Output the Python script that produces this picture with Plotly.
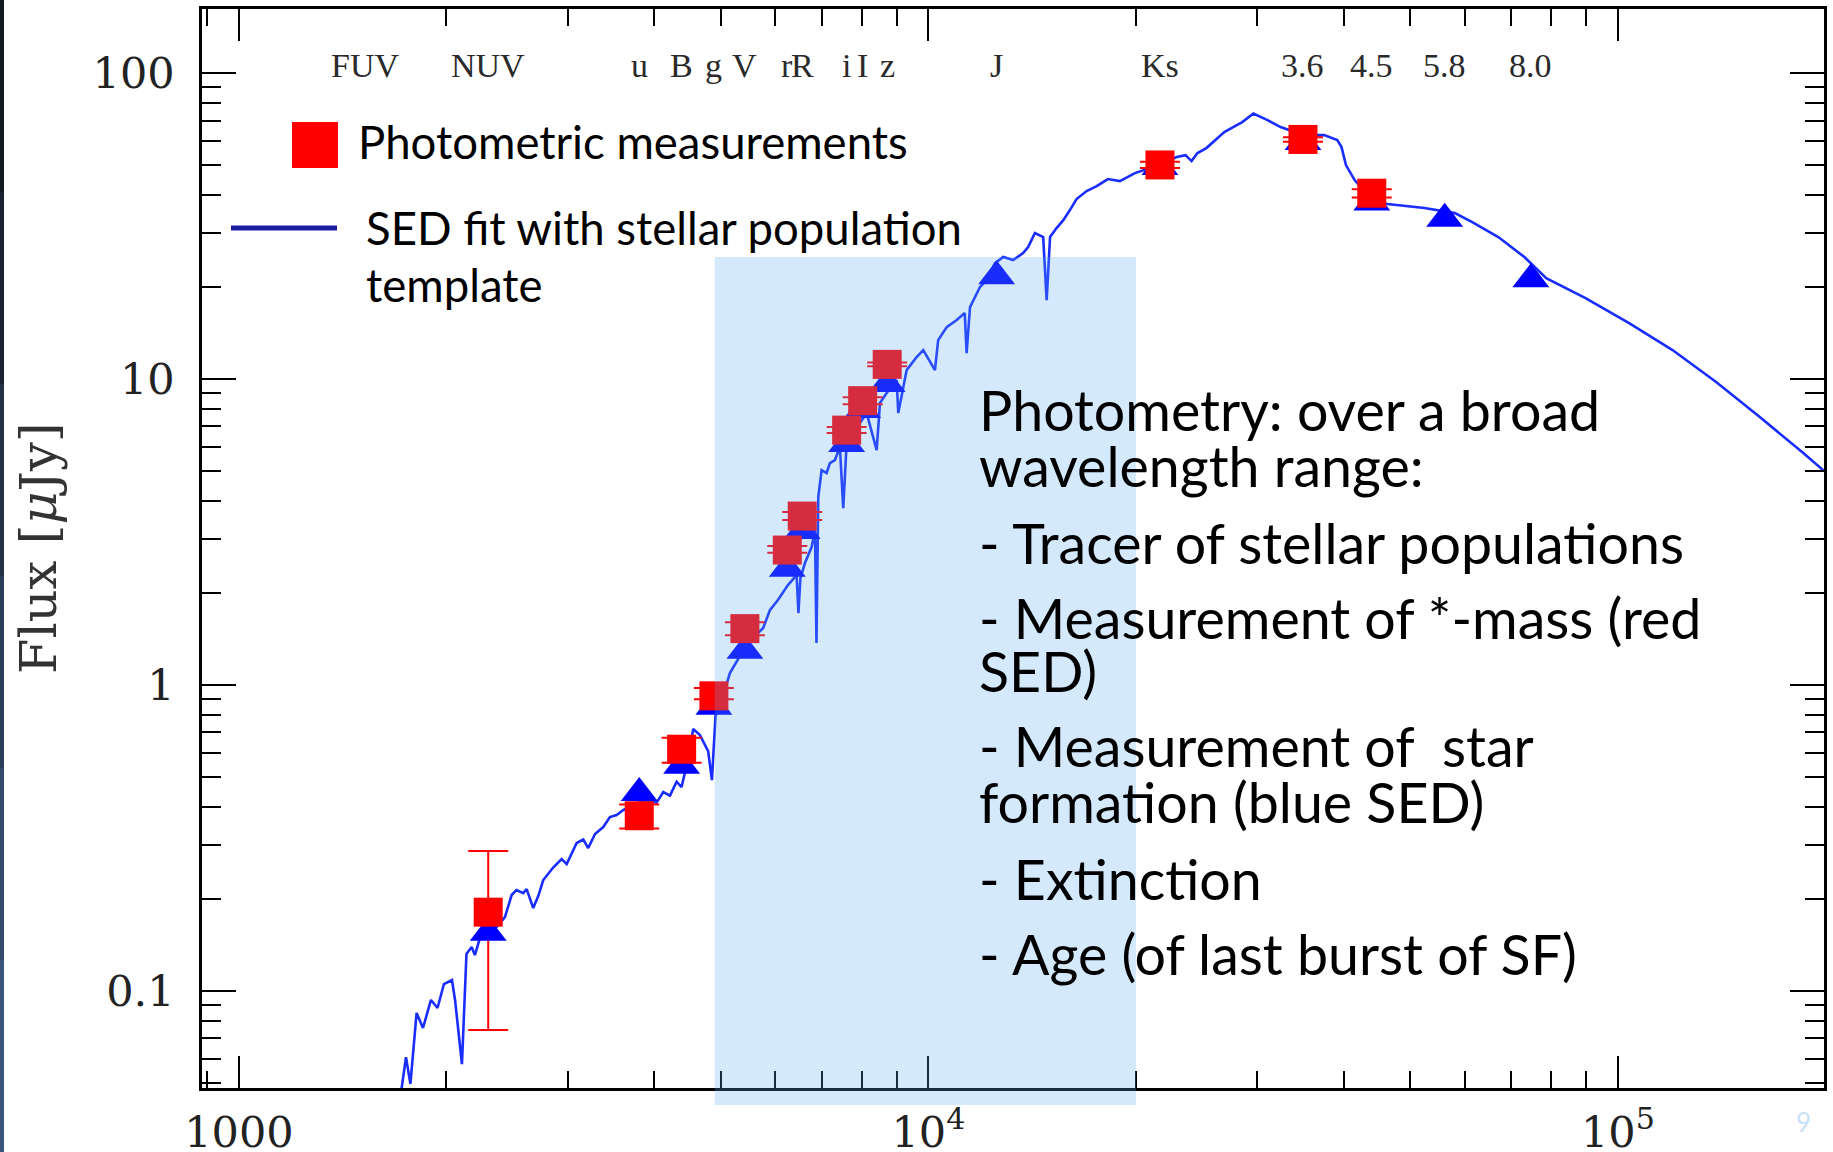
import math
import plotly.graph_objects as go

# ---------------- data ----------------
band_names = ["FUV", "NUV", "u", "B", "g", "V", "r", "R", "i", "I", "z",
              "J", "Ks", "3.6", "4.5", "5.8", "8.0"]
band_wl = [1523, 2299, 3807, 4386, 4885, 5418, 6242, 6561, 7610, 8028, 8713,
           12558, 21666, 34930, 43950, 56070, 74770]

# photometric measurements (red squares)
phot_wl = [2299, 3807, 4386, 4885, 5418, 6242, 6561, 7610, 8028, 8713,
           21666, 34930, 43950]
phot_flux = [0.181, 0.374, 0.617, 0.922, 1.529, 2.762, 3.567, 6.81, 8.50, 11.17,
             50.1, 60.7, 40.5]
phot_err_hi = [0.287, 0.407, 0.673, 0.978, 1.603, 2.846, 3.676, 6.97, 8.73, 11.32,
               51.3, 61.7, 41.7]
phot_err_lo = [0.0746, 0.340, 0.557, 0.898, 1.454, 2.706, 3.461, 6.66, 8.27, 11.02,
               49.0, 59.7, 39.2]

# model photometry (blue triangles)
model_wl = [2299, 3807, 4386, 4885, 5418, 6242, 6561, 7610, 8028, 8713,
            12558, 21666, 34930, 43950, 56070, 74770]
model_flux = [0.155, 0.444, 0.545, 0.849, 1.294, 2.399, 3.186, 6.13, 7.92, 9.63,
              21.7, 49.3, 59.5, 37.8, 33.4, 21.2]

# SED template (blue line)
sed_wl = [1684, 1722, 1747, 1773, 1810, 1849, 1899, 1941, 1983, 2037,
          2058, 2106, 2138, 2175, 2199, 2236, 2287, 2365, 2431, 2486,
          2527, 2584, 2614, 2672, 2717, 2763, 2856, 2938, 2988, 3089,
          3158, 3211, 3284, 3376, 3452, 3530, 3609, 3715, 3879, 4035,
          4125, 4218, 4313, 4385, 4479, 4559, 4662, 4792, 4853, 4911,
          5017, 5153, 5328, 5448, 5602, 5759, 5890, 6049, 6255, 6439,
          6478, 6521, 6621, 6770, 6846, 6881, 6922, 7000, 7117, 7197,
          7318, 7441, 7524, 7610, 7779, 8000, 8136, 8412, 8506, 8698,
          8994, 9042, 9299, 9613, 9829, 10220, 10330, 10630, 10990, 11290,
          11360, 11490, 11880, 12150, 12490, 12840, 13270, 13720, 13950, 14270,
          14670, 14840, 15010, 15340, 15690, 16040, 16400, 16960, 17540, 18210,
          18950, 19930, 21170, 22920, 23600, 24080, 24560, 25300, 26080, 26860,
          27670, 28520, 29600, 31030, 32420, 33440, 34990, 37490, 39170, 39730,
          40320, 41510, 42730, 43980, 46300, 52400, 58000, 61480, 67060, 73170,
          78700, 89740, 103800, 120000, 138800, 160600, 185700, 199100]
sed_flux = [0.0457, 0.0482, 0.0608, 0.0497, 0.0848, 0.0757, 0.0935, 0.0880, 0.1054, 0.1086,
            0.0935, 0.0577, 0.1321, 0.1392, 0.1311, 0.1490, 0.1547, 0.1618, 0.1745, 0.2059,
            0.2138, 0.2090, 0.2154, 0.1867, 0.2044, 0.2305, 0.2533, 0.2701, 0.2600, 0.3046,
            0.3127, 0.2933, 0.3259, 0.3435, 0.3703, 0.3760, 0.3904, 0.4054, 0.4210, 0.4127,
            0.4470, 0.4351, 0.4833, 0.4642, 0.5687, 0.7181, 0.6864, 0.6086, 0.4892, 0.7917,
            0.8933, 1.094, 1.244, 1.372, 1.446, 1.536, 1.758, 1.896, 2.122, 2.288,
            1.719, 2.237, 2.505, 2.825, 3.211, 1.372, 4.116, 5.043, 4.931, 5.315,
            5.437, 5.995, 3.788, 6.177, 6.661, 7.345, 7.743, 5.861, 8.350, 9.000,
            9.924, 7.743, 10.70, 11.80, 12.44, 10.70, 13.41, 14.79, 15.59, 16.43,
            12.16, 17.19, 19.99, 21.06, 23.94, 25.05, 24.49, 25.81, 27.00, 30.00,
            29.12, 18.12, 29.12, 31.16, 33.08, 35.67, 38.75, 41.16, 42.73, 45.04,
            44.37, 47.12, 49.31, 53.15, 53.95, 51.57, 54.78, 56.88, 60.39, 64.14,
            66.61, 69.17, 73.74, 70.22, 66.61, 65.11, 62.72, 62.72, 60.39, 57.31,
            50.03, 44.70, 41.46, 38.46, 37.32, 36.22, 34.87, 32.59, 29.12, 25.05,
            21.38, 18.40, 15.24, 12.44, 9.777, 7.513, 5.731, 5.005]

# axis ticks
x_major = [1000, 10000, 100000]
x_major_text = ["1000", "10<sup>4</sup>", "10<sup>5</sup>"]
x_minor = [900, 2000, 3000, 4000, 5000, 6000, 7000, 8000, 9000,
           20000, 30000, 40000, 50000, 60000, 70000, 80000, 90000]
y_major = [0.1, 1, 10, 100]
y_major_text = ["0.1", "1", "10", "100"]
y_minor = [0.05, 0.06, 0.07, 0.08, 0.09,
           0.2, 0.3, 0.4, 0.5, 0.6, 0.7, 0.8, 0.9,
           2, 3, 4, 5, 6, 7, 8, 9,
           20, 30, 40, 50, 60, 70, 80, 90]
x_range_vals = [884, 199000]
y_range_vals = [0.0482, 162]

# highlighted wavelength band
band_lo, band_hi = 4900, 20000

text_lines = ["Photometry: over a broad",
              "wavelength range:",
              "- Tracer of stellar populations",
              "- Measurement of *-mass (red",
              "SED)",
              "- Measurement of \u00a0star",
              "formation (blue SED)",
              "- Extinction",
              "- Age (of last burst of SF)"]

# ---------------- layout helpers (pixels -> paper) ----------------
W, H = 1833, 1152
L, R, T, B = 202, 1824, 9, 1088


def xp(px):
    return (px - L) / (R - L)


def yp(py):
    return (B - py) / (B - T)


def mid_from_baseline(baseline, size, asc=0.987, desc=0.213):
    return baseline - (asc - desc) / 2 * size


fig = go.Figure()

# SED line
fig.add_trace(go.Scatter(x=sed_wl, y=sed_flux, mode="lines",
                         line=dict(color="rgb(25,45,255)", width=2.6),
                         hoverinfo="skip", showlegend=False))

# error bars only (drawn below the markers)
fig.add_trace(go.Scatter(
    x=phot_wl, y=phot_flux, mode="markers",
    marker=dict(size=1, opacity=0),
    error_y=dict(type="data", symmetric=False,
                 array=[h - f for h, f in zip(phot_err_hi, phot_flux)],
                 arrayminus=[f - l for l, f in zip(phot_err_lo, phot_flux)],
                 color="#ff0000", thickness=2, width=20),
    showlegend=False, hoverinfo="skip"))

# model photometry (triangles)
fig.add_trace(go.Scatter(x=model_wl, y=model_flux, mode="markers",
                         marker=dict(symbol="triangle-up", size=32, color="#0000ff",
                                     line=dict(width=0)),
                         showlegend=False))

# measured photometry (squares)
fig.add_trace(go.Scatter(x=phot_wl, y=phot_flux, mode="markers",
                         marker=dict(symbol="square", size=29, color="#ff0000",
                                     line=dict(width=0)),
                         showlegend=False))

serif = "DejaVu Serif"
axis_common = dict(type="log", showline=True, linecolor="black", linewidth=2.5,
                   mirror="allticks", ticks="inside", tickcolor="black",
                   tickwidth=2.2, showgrid=False, zeroline=False, automargin=False,
                   tickfont=dict(family=serif, size=43, color="#222"))

fig.update_xaxes(**axis_common,
                 range=[math.log10(v) for v in x_range_vals],
                 tickmode="array", tickvals=x_major, ticktext=x_major_text,
                 ticklen=32, ticklabelstandoff=5,
                 minor=dict(tickmode="array", tickvals=x_minor, ticks="inside",
                            ticklen=17, tickwidth=2, tickcolor="black"))
fig.update_yaxes(**axis_common,
                 range=[math.log10(v) for v in y_range_vals],
                 tickmode="array", tickvals=y_major, ticktext=y_major_text,
                 ticklen=34, ticklabelstandoff=16,
                 minor=dict(tickmode="array", tickvals=y_minor, ticks="inside",
                            ticklen=19, tickwidth=2, tickcolor="black"))

shapes = []
# highlighted band (drawn above data, semi-transparent)
shapes.append(dict(type="rect", xref="x", yref="paper",
                   x0=band_lo, x1=band_hi, y0=yp(1105), y1=yp(257),
                   fillcolor="rgba(93,170,243,0.26)", line=dict(width=0),
                   layer="above"))
# legend symbols
shapes.append(dict(type="rect", xref="paper", yref="paper",
                   x0=xp(292), x1=xp(338), y0=yp(168), y1=yp(122),
                   fillcolor="#ff0000", line=dict(width=0), layer="above"))
shapes.append(dict(type="line", xref="paper", yref="paper",
                   x0=xp(231), x1=xp(337), y0=yp(228), y1=yp(228),
                   line=dict(color="#1c1ca0", width=5), layer="above"))
# dark slide edge on the left
edge_cols = ["#141a24", "#1b2433", "#233046", "#2c3d59", "#34496b", "#3b557c"]
for k, c in enumerate(edge_cols):
    shapes.append(dict(type="rect", xref="paper", yref="paper",
                       x0=xp(0), x1=xp(4),
                       y0=yp(H * (k + 1) / len(edge_cols)), y1=yp(H * k / len(edge_cols)),
                       fillcolor=c, line=dict(width=0), layer="above"))

annotations = []
sans = "Lato"
# band labels at the top
for name, wl in zip(band_names, band_wl):
    annotations.append(dict(x=math.log10(wl), y=yp(mid_from_baseline(76.7, 34, 0.891, 0.216)),
                            xref="x", yref="paper", text=name, showarrow=False,
                            xanchor="center", yanchor="middle", borderpad=0,
                            font=dict(family="Liberation Serif", size=34, color="#2a2a2a")))
# legend texts
leg_size = 45.5
for txt, px, base in [("Photometric measurements", 357, 159.3),
                      ("SED fit with stellar population", 365, 245),
                      ("template", 365, 301.7)]:
    annotations.append(dict(x=xp(px), y=yp(mid_from_baseline(base, leg_size)),
                            xref="paper", yref="paper", text=txt, showarrow=False,
                            xanchor="left", yanchor="middle", borderpad=0,
                            font=dict(family=sans, size=leg_size, color="black")))
# main text block
txt_size = 55.5
baselines = [431.3, 486.6, 563.7, 638.8, 692, 767.2, 822.6, 899.6, 974.7]
for txt, base in zip(text_lines, baselines):
    annotations.append(dict(x=xp(978), y=yp(mid_from_baseline(base, txt_size)),
                            xref="paper", yref="paper", text=txt, showarrow=False,
                            xanchor="left", yanchor="middle", borderpad=0,
                            font=dict(family=sans, size=txt_size, color="black")))
# y-axis title
annotations.append(dict(x=xp(38), y=yp(548), xref="paper", yref="paper",
                        text="Flux [<i>\u03bc</i>Jy]", textangle=-90, showarrow=False,
                        xanchor="center", yanchor="middle",
                        font=dict(family=serif, size=51, color="#333")))
# slide number
annotations.append(dict(x=xp(1803), y=yp(1122), xref="paper", yref="paper",
                        text="9", showarrow=False, xanchor="center", yanchor="middle",
                        font=dict(family=sans, size=26, color="#c8e0f8")))

fig.update_layout(width=W, height=H,
                  margin=dict(l=L, r=W - R, t=T, b=H - B, pad=0, autoexpand=False),
                  paper_bgcolor="white", plot_bgcolor="white",
                  shapes=shapes, annotations=annotations, showlegend=False)

fig.write_html("out.html", config={"displayModeBar": False},
               post_script="document.body.style.margin='0px';"
                           "document.body.style.overflow='hidden';")
